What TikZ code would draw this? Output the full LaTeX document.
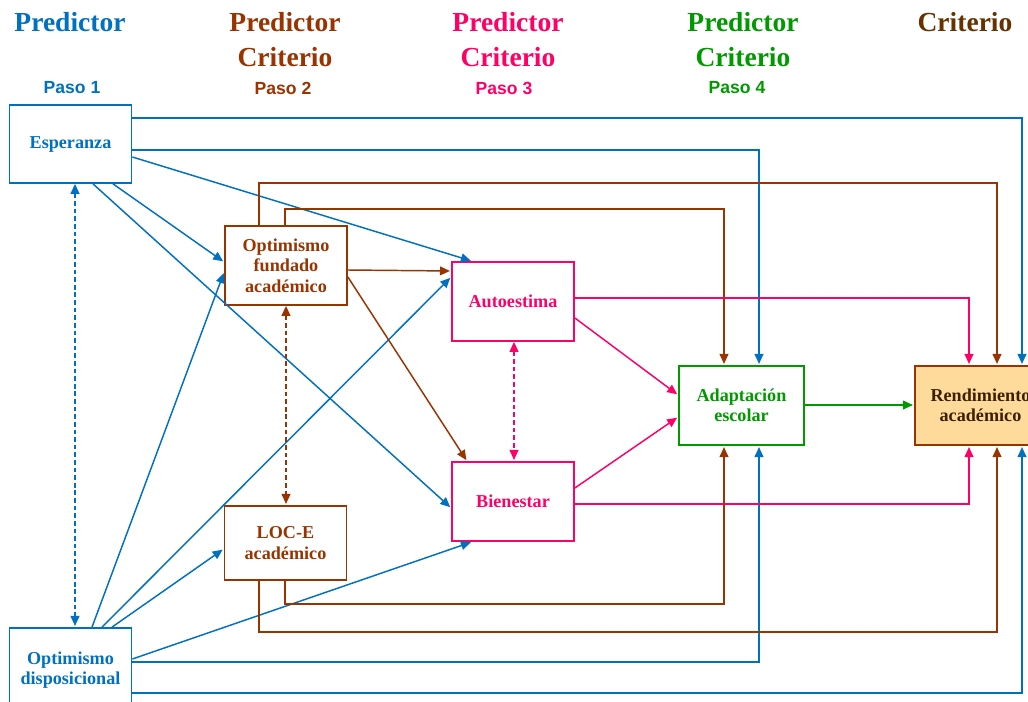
\documentclass[tikz,border=0pt]{standalone}
\usepackage{fontspec}
\setmainfont{Liberation Serif}
\setsansfont{Liberation Sans}
\usetikzlibrary{positioning}
\usetikzlibrary{arrows.meta}

\definecolor{pblue}{HTML}{0070C0}
\definecolor{pbrown}{HTML}{993300}
\definecolor{ppink}{HTML}{FF0066}
\definecolor{pgreen}{HTML}{009900}
\definecolor{cbrown}{HTML}{663300}
\definecolor{rfill}{HTML}{FFDB9B}
\definecolor{rtext}{HTML}{3B2000}

\begin{document}
\begin{tikzpicture}[x=0.03cm,y=-0.03cm,>={Triangle[length=8.5pt,width=7.5pt]},
    shorten >=1pt,line width=1.25pt,
    box/.style={draw,line width=1.5pt,align=center,minimum width=3.66cm,minimum height=2.37cm,
      font=\bfseries\fontsize{15.5}{17.5}\selectfont},
    head/.style={align=center,font=\bfseries\fontsize{23.5}{29.5}\selectfont},
    paso/.style={font=\sffamily\bfseries\fontsize{15}{18}\selectfont},
    link/.style={dash pattern=on 4pt off 2.5pt}]
      % \draw[help lines] (0,0) grid (1028,702);
    \clip (0,0) rectangle (1028,702);

    % column heads
    \node[head, text=pblue]                    (h_1) at (70,22)     {Predictor};
    \node[head, text=pbrown]                   (h_2) at (285,39.5)  {Predictor\\Criterio};
    \node[head, text=ppink]                    (h_3) at (508,39.5)  {Predictor\\Criterio};
    \node[head, text=pgreen]                   (h_4) at (743,39.5)  {Predictor\\Criterio};
    \node[head, text=cbrown]                   (h_5) at (965,22)    {Criterio};

    \node[paso, text=pblue]                    (p_1) at (72,88)     {Paso 1};
    \node[paso, text=pbrown]                   (p_2) at (283,88)    {Paso 2};
    \node[paso, text=ppink]                    (p_3) at (504,88)    {Paso 3};
    \node[paso, text=pgreen]                   (p_4) at (737,88)    {Paso 4};

    % variables
    \node[box, draw=pblue, text=pblue, minimum height=2.34cm]  (esp) at (70.5,144)   {Esperanza};
    \node[box, draw=pblue, text=pblue, minimum height=2.52cm]  (opt_disp) at (70.5,670) {Optimismo\\disposicional};
    \node[box, draw=pbrown, text=pbrown]                       (opt_fun) at (286,265.5) {Optimismo\\fundado\\académico};
    \node[box, draw=pbrown, text=pbrown, minimum height=2.22cm] (loc_e) at (285.5,543) {LOC-E\\académico};
    \node[box, draw=ppink, text=ppink]                         (auto) at (513,301.5)  {Autoestima};
    \node[box, draw=ppink, text=ppink]                         (bien) at (513,501.5)  {Bienestar};
    \node[box, draw=pgreen, text=pgreen, minimum width=3.75cm] (adap) at (741.5,405.5) {Adaptación\\escolar};
    \node[box, draw=pbrown, fill=rfill, text=rtext, minimum width=3.93cm] (rend) at (980.5,405.5) {Rendimiento\\académico};

    % paso 1
    \draw[->, pblue] (esp.east |- 0,118) -| (rend.north -| 1022,0);
    \draw[->, pblue] (esp.east |- 0,150) -| (adap.north -| 759,0);
    \draw[->, pblue] (esp.east |- 0,157) -- (auto.north -| 472,0);
    \draw[->, pblue] (esp.south -| 113,0) -- (opt_fun.west |- 0,262);
    \draw[->, pblue] (esp.south -| 93,0) -- (bien.west |- 0,508);
    \draw[<->, pblue, link] (esp.south -| 75,0) -- (opt_disp.north -| 75,0);
    \draw[->, pblue] (opt_disp.north -| 92,0) -- (opt_fun.west |- 0,272);
    \draw[->, pblue] (opt_disp.north -| 102,0) -- (auto.west |- 0,277);
    \draw[->, pblue] (opt_disp.north -| 112,0) -- (loc_e.west |- 0,549);
    \draw[->, pblue] (opt_disp.east |- 0,659) -- (bien.south -| 472,0);
    \draw[->, pblue] (opt_disp.east |- 0,662) -| (adap.south -| 759,0);
    \draw[->, pblue] (opt_disp.east |- 0,693) -| (rend.south -| 1022,0);

    % paso 2
    \draw[->, pbrown] (opt_fun.north -| 259,0) -- ++(0,-42) -| (rend.north -| 997,0);
    \draw[->, pbrown] (opt_fun.north -| 285,0) -- ++(0,-16) -| (adap.north -| 724,0);
    \draw[->, pbrown] (opt_fun.east |- 0,270) -- (auto.west |- 0,271);
    \draw[->, pbrown] (opt_fun.east |- 0,277) -- (bien.north -| 467,0);
    \draw[<->, pbrown, link] (opt_fun.south -| 286,0) -- (loc_e.north -| 286,0);
    \draw[->, pbrown] (loc_e.south -| 285,0) -- ++(0,23) -| (adap.south -| 724,0);
    \draw[->, pbrown] (loc_e.south -| 259,0) -- ++(0,51) -| (rend.south -| 997,0);

    % paso 3
    \draw[->, ppink] (auto.east |- 0,298) -| (rend.north -| 969,0);
    \draw[->, ppink] (auto.east |- 0,318) -- (adap.west |- 0,395);
    \draw[<->, ppink, link] (auto.south -| 514,0) -- (bien.north -| 514,0);
    \draw[->, ppink] (bien.east |- 0,488) -- (adap.west |- 0,417);
    \draw[->, ppink] (bien.east |- 0,504) -| (rend.south -| 969,0);

    % paso 4
    \draw[->, pgreen] (adap.east |- 0,405) -- (rend.west |- 0,405);
\end{tikzpicture}
\end{document}
